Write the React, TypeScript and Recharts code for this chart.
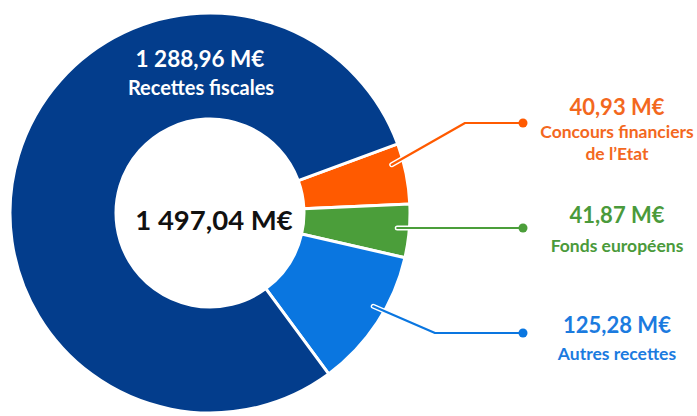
import { Cell, Pie, PieChart } from "recharts";

// Ordered clockwise from the top-right boundary of the ring
const categories = ["Concours financiers", "Fonds européens", "Autres recettes", "Recettes fiscales"];
const nameLines = [["Concours financiers", "de l’Etat"], ["Fonds européens"], ["Autres recettes"], ["Recettes fiscales"]];
const amounts = [40.93, 41.87, 125.28, 1288.96];
// slice sizes as they are drawn in the original (%), not proportional to the amounts
const drawnShares = [4.9, 4.3, 11.3, 79.5];

const sliceColors = ["#FF5A00", "#4B9E3A", "#0A76E0", "#033D8C"];
const textColors = ["#F3681E", "#4A9A3B", "#1B7BDF", "#FFFFFF"];

// label layout (right column)
const rowY = [123, 228, 333];
const elbowX = [465, null, 435];
const startNudge = [3.5, 0, 3.5];
const valueY = [115, 223, 333];
const nameY = [138, 252, 360];
const DOT_X = 523;
const TEXT_X = 617;
const RAD = Math.PI / 180;
const FONT = "Lato, 'Open Sans', sans-serif";

const chartData = categories.map((name, i) => ({
  name,
  amount: amounts[i],
  share: drawnShares[i],
}));

const total = amounts.reduce((s, v) => s + v, 0);

function formatAmount(value: number): string {
  const [int, dec] = value.toFixed(2).split(".");
  return `${int.replace(/\B(?=(\d{3})+(?!\d))/g, " ")},${dec} M€`;
}

function renderLabel(props: any) {
  const { cx, cy, midAngle, index } = props;

  if (index === 3) {
    return (
      <g style={{ fontFamily: FONT, fontWeight: 700 }}>
        <text x={cx - 10} y={cy - 146} textAnchor="middle" fill={textColors[3]} fontSize={22.5}>
          {formatAmount(amounts[3])}
        </text>
        <text x={cx - 9} y={cy - 118} textAnchor="middle" fill={textColors[3]} fontSize={20}>
          {nameLines[3][0]}
        </text>
        <text x={cx + 4} y={cy + 17} textAnchor="middle" fill="#111111" fontSize={27.5}>
          {formatAmount(total)}
        </text>
      </g>
    );
  }

  const r = 188;
  const a = midAngle + startNudge[index];
  const sx = cx + r * Math.cos(-a * RAD);
  const sy = cy + r * Math.sin(-a * RAD);
  const y = rowY[index];
  const ex = elbowX[index];
  const points = ex === null ? `${sx},${y} ${DOT_X},${y}` : `${sx},${sy} ${ex},${y} ${DOT_X},${y}`;
  const color = sliceColors[index];

  return (
    <g style={{ fontFamily: FONT, fontWeight: 700 }}>
      <polyline points={points} fill="none" stroke="#ffffff" strokeWidth={5} strokeLinecap="round" strokeLinejoin="round" />
      <polyline points={points} fill="none" stroke={color} strokeWidth={2.2} strokeLinecap="round" strokeLinejoin="round" />
      <circle cx={DOT_X} cy={y} r={4.5} fill={color} />
      <text x={TEXT_X} y={valueY[index]} textAnchor="middle" fill={textColors[index]} fontSize={22}>
        {formatAmount(amounts[index])}
      </text>
      {nameLines[index].map((line, j) => (
        <text key={j} x={TEXT_X} y={nameY[index] + j * 22} textAnchor="middle" fill={textColors[index]} fontSize={17.5}>
          {line}
        </text>
      ))}
    </g>
  );
}

export default function App() {
  return (
    <div style={{ position: "absolute", left: 0, top: 0, width: 697, height: 416, background: "#ffffff" }}>
      <PieChart width={697} height={416} margin={{ top: 0, right: 0, bottom: 0, left: 0 }}>
        <Pie
          data={chartData}
          dataKey="share"
          nameKey="name"
          cx={210}
          cy={213}
          innerRadius={94}
          outerRadius={200}
          startAngle={20.2}
          endAngle={-339.8}
          stroke="#ffffff"
          strokeWidth={3}
          label={renderLabel}
          labelLine={false}
          isAnimationActive={false}
        >
          {chartData.map((d, i) => (
            <Cell key={d.name} fill={sliceColors[i]} />
          ))}
        </Pie>
      </PieChart>
    </div>
  );
}
